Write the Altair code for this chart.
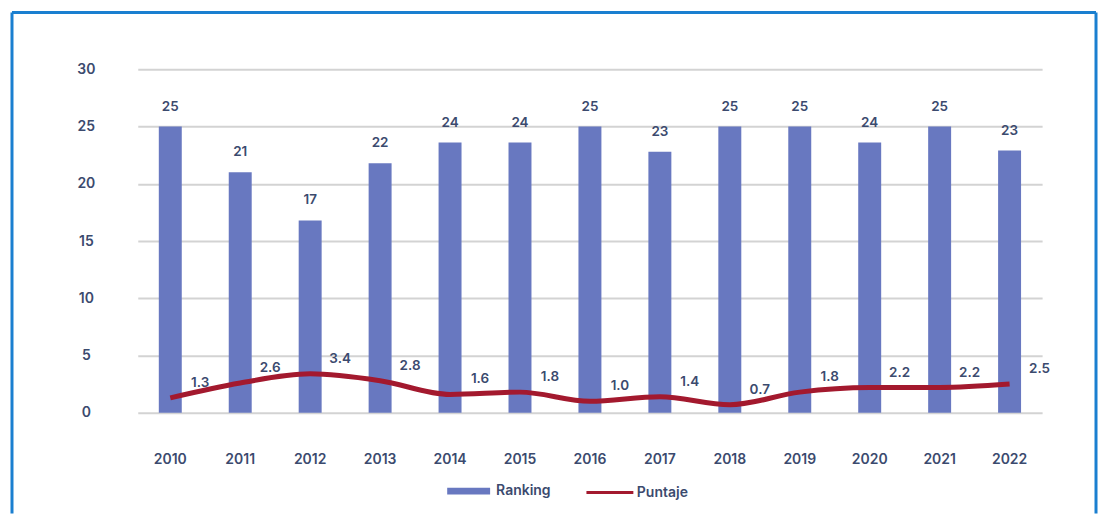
import altair as alt
import pandas as pd

years = ["2010", "2011", "2012", "2013", "2014", "2015", "2016",
         "2017", "2018", "2019", "2020", "2021", "2022"]
ranking = [25, 21, 16.8, 21.8, 23.6, 23.6, 25, 22.8, 25, 25, 23.6, 25, 22.9]
puntaje = [1.3, 2.6, 3.4, 2.8, 1.6, 1.8, 1.0, 1.4, 0.7, 1.8, 2.2, 2.2, 2.5]

df = pd.DataFrame({"year": years, "ranking": ranking, "puntaje": puntaje,
                   "s1": "Ranking", "s2": "Puntaje"})

NAVY = "#3B4A6E"
BAR = "#6878C0"
LINE = "#A3192E"
FONT = "Inter"
W = 600

x = alt.X("year:N", title=None, sort=years,
          scale=alt.Scale(paddingInner=0.67, paddingOuter=0.3),
          axis=alt.Axis(labelAngle=0, labelPadding=40, ticks=False, domain=False,
                        labelFontSize=14, labelColor=NAVY, labelFont=FONT,
                        labelFontWeight=W))
yscale = alt.Scale(domain=[0, 30])
yaxis = alt.Axis(values=[0, 5, 10, 15, 20, 25, 30], ticks=False, domain=False,
                 labelAlign="center", labelPadding=52, labelFontSize=14,
                 labelColor=NAVY, labelFont=FONT, labelFontWeight=W,
                 gridColor="#D3D3D3", gridWidth=2)

base = alt.Chart(df)

bars = base.mark_bar(size=23).encode(
    x=x,
    y=alt.Y("ranking:Q", title=None, scale=yscale, axis=yaxis),
    fill=alt.Fill("s1:N", scale=alt.Scale(domain=["Ranking"], range=[BAR]),
                  legend=alt.Legend(title=None, orient="none", legendX=310,
                                    legendY=401,
                                    symbolType="M-1,-0.16L1,-0.16L1,0.16L-1,0.16Z",
                                    symbolSize=1849, symbolStrokeWidth=0,
                                    labelFontSize=14, labelColor=NAVY,
                                    labelFont=FONT, labelFontWeight=W,
                                    labelOffset=6)),
)

bar_labels = base.mark_text(dy=-20, fontSize=13.5, color=NAVY, font=FONT,
                            fontWeight=W).encode(
    x=x,
    y=alt.Y("ranking:Q", scale=yscale),
    text=alt.Text("ranking:Q", format=".0f"),
)

line = base.mark_line(interpolate="monotone", strokeWidth=5).encode(
    x=x,
    y=alt.Y("puntaje:Q", scale=yscale),
    stroke=alt.Stroke("s2:N", scale=alt.Scale(domain=["Puntaje"], range=[LINE]),
                      legend=alt.Legend(title=None, orient="none", legendX=448,
                                        legendY=399,
                                        symbolType="stroke", symbolSize=2209,
                                        symbolStrokeWidth=3,
                                        labelFontSize=14, labelColor=NAVY,
                                        labelFont=FONT, labelFontWeight=W,
                                        labelOffset=2)),
)

line_labels = base.mark_text(dx=30, dy=-15, fontSize=13.5, color=NAVY, font=FONT,
                             fontWeight=W).encode(
    x=x,
    y=alt.Y("puntaje:Q", scale=yscale),
    text=alt.Text("puntaje:Q", format=".1f"),
)

frame_data = alt.Data(values=[{"k": 1}])
FRAME = "#1A7FD0"
left_edge = alt.Chart(frame_data).mark_rule(color=FRAME, strokeWidth=3).encode(
    x=alt.value(-126), y=alt.value(-57), y2=alt.value(445))
right_edge = alt.Chart(frame_data).mark_rule(color=FRAME, strokeWidth=3).encode(
    x=alt.value(960), y=alt.value(-57), y2=alt.value(445))
top_edge = alt.Chart(frame_data).mark_rule(color=FRAME, strokeWidth=3).encode(
    x=alt.value(-126), x2=alt.value(960), y=alt.value(-57))

chart = alt.layer(bars, line, bar_labels, line_labels, left_edge, right_edge, top_edge
).resolve_scale(fill="independent", stroke="independent").properties(
    width=906, height=344,
    padding={"left": 2, "top": 2, "right": 2, "bottom": 2},
).configure_view(stroke=None)

chart.save("out.html", embed_options={"renderer": "svg", "actions": False})
